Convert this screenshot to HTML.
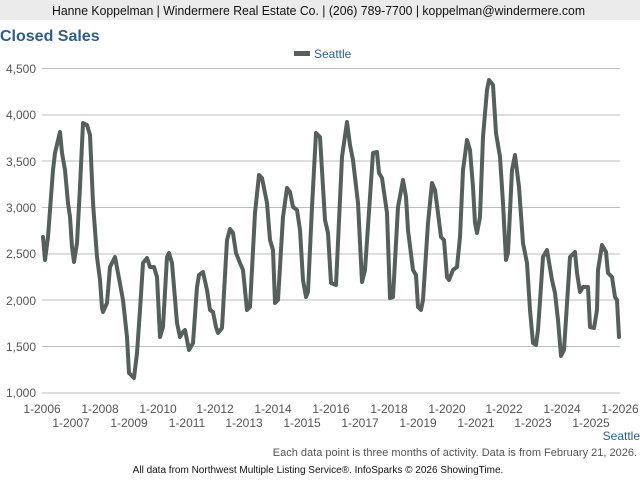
<!DOCTYPE html>
<html><head><style>
body{margin:0;width:640px;height:480px;background:#fff;font-family:"Liberation Sans",sans-serif;overflow:hidden}
</style></head><body>
<svg width="640" height="480" xmlns="http://www.w3.org/2000/svg" font-family="Liberation Sans, sans-serif">
<rect x="0" y="0" width="640" height="20" fill="#ebebeb"/>
<text x="52" y="15" font-size="12.5" fill="#111" textLength="533" lengthAdjust="spacingAndGlyphs">Hanne Koppelman | Windermere Real Estate Co. | (206) 789-7700 | koppelman@windermere.com</text>
<text x="0" y="41" font-size="16" font-weight="bold" fill="#2f5d8a">Closed Sales</text>
<rect x="294" y="51" width="16" height="5" fill="#555f5c"/>
<text x="314" y="58" font-size="12" fill="#2f5d8a">Seattle</text>
<g stroke="#bdbdbd" stroke-width="1">
<line x1="42" y1="68.5" x2="620" y2="68.5"/><line x1="42" y1="115" x2="620" y2="115"/><line x1="42" y1="161" x2="620" y2="161"/><line x1="42" y1="207.5" x2="620" y2="207.5"/><line x1="42" y1="254" x2="620" y2="254"/><line x1="42" y1="300" x2="620" y2="300"/><line x1="42" y1="346.5" x2="620" y2="346.5"/><line x1="42" y1="393" x2="620" y2="393"/>
</g>
<g font-size="12" fill="#555" text-anchor="end">
<text x="36" y="73">4,500</text><text x="36" y="119">4,000</text><text x="36" y="166">3,500</text><text x="36" y="212">3,000</text><text x="36" y="258">2,500</text><text x="36" y="305">2,000</text><text x="36" y="351">1,500</text><text x="36" y="397">1,000</text>
</g>
<g font-size="12" fill="#555" text-anchor="middle">
<text x="42" y="413">1-2006</text><text x="100" y="413">1-2008</text><text x="158" y="413">1-2010</text><text x="215" y="413">1-2012</text><text x="273" y="413">1-2014</text><text x="331" y="413">1-2016</text><text x="389" y="413">1-2018</text><text x="447" y="413">1-2020</text><text x="504" y="413">1-2022</text><text x="562" y="413">1-2024</text><text x="620" y="413">1-2026</text>
<text x="71" y="427">1-2007</text><text x="129" y="427">1-2009</text><text x="187" y="427">1-2011</text><text x="244" y="427">1-2013</text><text x="302" y="427">1-2015</text><text x="360" y="427">1-2017</text><text x="418" y="427">1-2019</text><text x="476" y="427">1-2021</text><text x="533" y="427">1-2023</text><text x="591" y="427">1-2025</text>
</g>
<polyline fill="none" stroke="#555f5c" stroke-width="4" stroke-linejoin="round" stroke-linecap="round" points="43,237 45,260 48,237 53,170 55,153 60,132 62,153 65,170 68,203 70,217 72,247 74,262 77,243 80,187 83,123 87,125 90,135 93,203 97,257 100,280 102,308 103,312 107,303 110,267 115,257 118,273 123,300 127,337 129,373 134,378 137,353 140,310 143,263 147,258 150,267 154,267 157,277 160,337 163,327 167,257 169,253 172,263 177,323 180,337 183,332 185,330 187,340 189,350 193,343 197,287 199,275 203,272 207,290 210,310 213,312 216,327 218,333 222,328 227,240 230,229 233,233 236,253 240,263 243,270 247,310 250,307 255,213 259,175 262,178 267,203 270,240 273,250 275,303 278,300 283,217 287,188 290,192 293,207 297,210 300,230 303,280 306,297 308,292 312,207 316,133 320,137 325,220 328,233 331,283 336,285 342,157 347,122 350,145 353,160 358,203 362,282 365,270 370,197 373,153 377,152 379,173 382,178 387,213 390,298 393,297 398,207 403,180 406,197 408,230 413,270 416,275 418,307 421,310 423,300 428,223 432,183 435,190 438,213 441,237 444,240 447,277 449,280 453,270 457,267 460,237 463,170 467,140 470,150 473,187 475,223 477,233 480,217 483,137 487,90 489,80 493,85 496,133 500,157 503,203 506,260 508,253 512,170 515,155 519,187 523,243 527,263 530,310 533,343 536,345 538,330 543,257 547,250 552,280 555,293 558,320 561,356 564,350 570,257 575,252 577,273 580,292 583,287 588,287 590,327 594,328 597,310 598,270 602,245 606,252 608,273 612,277 615,297 617,300 619,337"/>
<text x="640" y="440" font-size="12" fill="#2f5d8a" text-anchor="end">Seattle</text>
<text x="637" y="456" font-size="11" fill="#555" text-anchor="end">Each data point is three months of activity. Data is from February 21, 2026.</text>
<text x="318" y="473" font-size="10" fill="#111" text-anchor="middle">All data from Northwest Multiple Listing Service®. InfoSparks © 2026 ShowingTime.</text>
</svg>
</body></html>
